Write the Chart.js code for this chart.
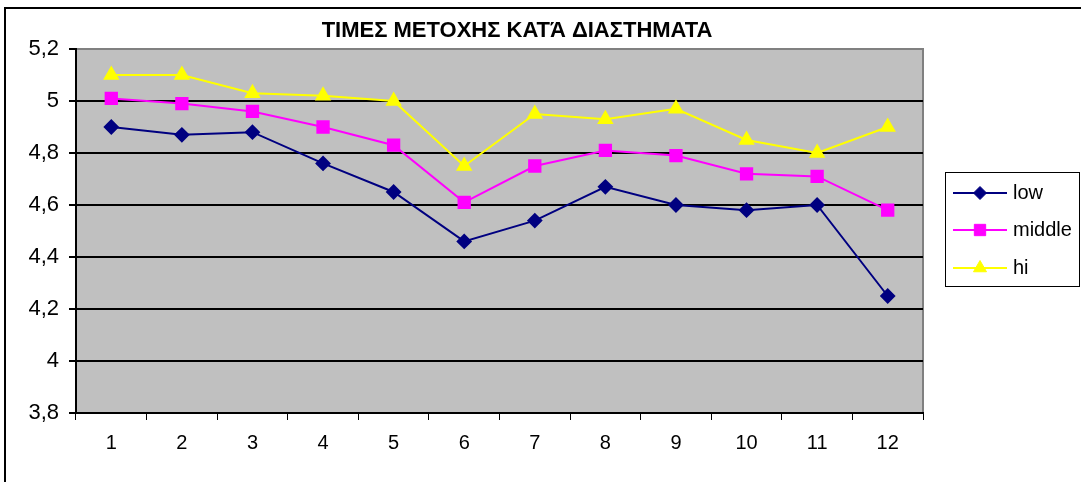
<!DOCTYPE html>
<html>
<head>
<meta charset="utf-8">
<script src="https://cdn.jsdelivr.net/npm/chart.js@4.4.1/dist/chart.umd.min.js"></script>
<style>
  html, body { margin: 0; padding: 0; background: #ffffff; }
  #wrap { width: 1081px; height: 482px; position: relative; }
</style>
</head>
<body>
<div id="wrap"><canvas id="c" width="1081" height="482"></canvas></div>
<script>
const chartTitle = 'ΤΙΜΕΣ ΜΕΤΟΧΗΣ ΚΑΤΆ ΔΙΑΣΤΗΜΑΤΑ';
const categories = ['1','2','3','4','5','6','7','8','9','10','11','12'];
const seriesNames = ['low', 'middle', 'hi'];
const lowValues    = [4.90, 4.87, 4.88, 4.76, 4.65, 4.46, 4.54, 4.67, 4.60, 4.58, 4.60, 4.25];
const middleValues = [5.01, 4.99, 4.96, 4.90, 4.83, 4.61, 4.75, 4.81, 4.79, 4.72, 4.71, 4.58];
const hiValues     = [5.10, 5.10, 5.03, 5.02, 5.00, 4.75, 4.95, 4.93, 4.97, 4.85, 4.80, 4.90];
const yMin = 3.8, yMax = 5.2, yStep = 0.2;

const FONT = '"Liberation Sans", Arial, sans-serif';

function fmt(v) {
  return String(Number(v.toFixed(1))).replace('.', ',');
}

const framePlugin = {
  id: 'frame',
  beforeDraw(chart) {
    const ctx = chart.ctx, a = chart.chartArea;
    ctx.save();
    ctx.fillStyle = '#ffffff';
    ctx.fillRect(0, 0, chart.width, chart.height);
    ctx.strokeStyle = '#000000';
    ctx.lineWidth = 2;
    ctx.beginPath();
    ctx.moveTo(5, chart.height);
    ctx.lineTo(5, 8);
    ctx.lineTo(chart.width, 8);
    ctx.stroke();
    ctx.fillStyle = '#c0c0c0';
    ctx.fillRect(a.left, a.top, a.right - a.left, a.bottom - a.top);
    ctx.strokeStyle = '#808080';
    ctx.lineWidth = 2;
    ctx.strokeRect(a.left, a.top, a.right - a.left, a.bottom - a.top);
    ctx.fillStyle = '#000000';
    ctx.font = 'bold 22px ' + FONT;
    ctx.textAlign = 'center';
    ctx.textBaseline = 'middle';
    ctx.fillText(chartTitle, 517, 31);
    ctx.restore();
  },
  afterDraw(chart) {
    const ctx = chart.ctx;
    const bx = 945, by = 172, bw = 134, bh = 114;
    ctx.save();
    ctx.fillStyle = '#ffffff';
    ctx.fillRect(bx, by, bw, bh);
    ctx.strokeStyle = '#000000';
    ctx.lineWidth = 1;
    ctx.strokeRect(bx + 0.5, by + 0.5, bw, bh);
    const rows = [193, 230, 268];
    chart.data.datasets.forEach((ds, i) => {
      const y = rows[i];
      ctx.strokeStyle = ds.borderColor;
      ctx.lineWidth = 2;
      ctx.beginPath();
      ctx.moveTo(953, y);
      ctx.lineTo(1007, y);
      ctx.stroke();
      ctx.fillStyle = ds.pointBackgroundColor;
      ctx.strokeStyle = ds.pointBorderColor;
      ctx.lineWidth = 1;
      Chart.helpers.drawPoint(ctx, {pointStyle: ds.pointStyle, radius: ds.pointRadius, borderWidth: 1, rotation: 0}, 980, y);
      ctx.fillStyle = '#000000';
      ctx.font = '20px ' + FONT;
      ctx.textAlign = 'left';
      ctx.textBaseline = 'middle';
      ctx.fillText(ds.label, 1013, y);
    });
    ctx.restore();
  }
};

function mkDataset(label, data, color, style, radius) {
  return {
    label: label,
    data: data,
    borderColor: color,
    backgroundColor: color,
    pointBackgroundColor: color,
    pointBorderColor: color,
    pointStyle: style,
    pointRadius: radius,
    pointHoverRadius: radius,
    borderWidth: 2,
    tension: 0,
    fill: false
  };
}

new Chart(document.getElementById('c'), {
  type: 'line',
  data: {
    labels: categories,
    datasets: [
      mkDataset(seriesNames[0], lowValues, '#000080', 'rectRot', 6.5),
      mkDataset(seriesNames[1], middleValues, '#ff00ff', 'rect', 8),
      mkDataset(seriesNames[2], hiValues, '#ffff00', 'triangle', 7.5)
    ]
  },
  options: {
    responsive: false,
    animation: false,
    devicePixelRatio: 1,
    layout: { padding: { top: 49, right: 158, bottom: 0, left: 0 } },
    plugins: { legend: { display: false }, title: { display: false }, tooltip: { enabled: false } },
    scales: {
      x: {
        type: 'category',
        offset: true,
        afterFit(s) { s.height = 482 - 413; },
        grid: { display: true, offset: true, drawOnChartArea: false, drawTicks: true, tickLength: 7, color: '#000000', lineWidth: 1 },
        border: { display: true, color: '#000000', width: 2 },
        ticks: { color: '#000000', font: { family: FONT, size: 20 }, padding: 11, maxRotation: 0, autoSkip: false }
      },
      y: {
        min: yMin,
        max: yMax,
        afterFit(s) { s.width = 76; },
        grid: {
          drawTicks: true, tickLength: 7, lineWidth: 2,
          color: (c) => (c.tick && Math.abs(c.tick.value - yMax) < 1e-6) ? '#808080' : '#000000',
          tickColor: '#000000'
        },
        border: { display: true, color: '#000000', width: 2 },
        ticks: { stepSize: yStep, color: '#000000', font: { family: FONT, size: 22 }, padding: 10, callback: (v) => fmt(v) }
      }
    }
  },
  plugins: [framePlugin]
});
</script>
</body>
</html>
